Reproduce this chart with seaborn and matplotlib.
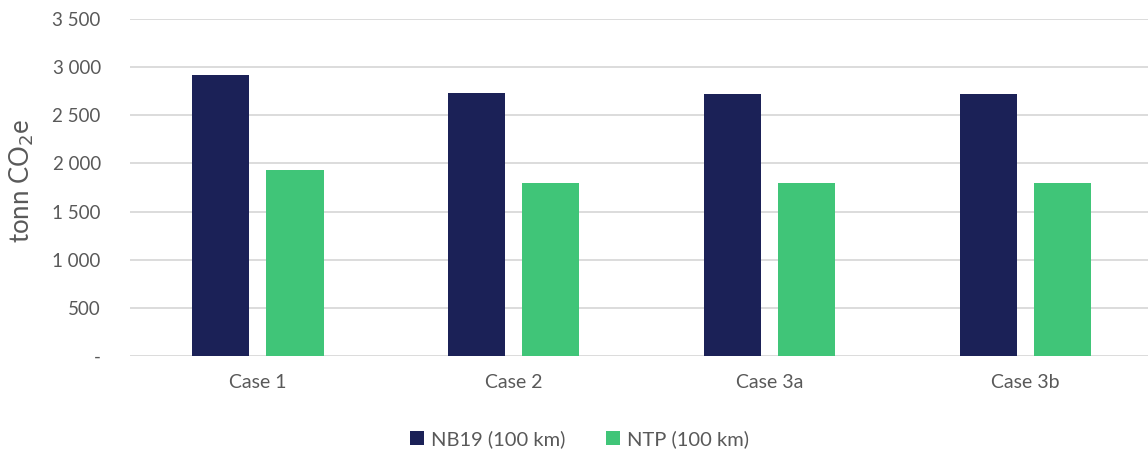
import matplotlib
matplotlib.use("Agg")
import matplotlib.pyplot as plt
from matplotlib.ticker import FuncFormatter
import seaborn as sns
import pandas as pd

cases = ["Case 1", "Case 2", "Case 3a", "Case 3b"]
nb19 = [2915, 2728, 2717, 2717]
ntp = [1931, 1793, 1793, 1793]
series_names = ["NB19 (100 km)", "NTP (100 km)"]
colors = ["#1B2157", "#40C578"]

df = pd.DataFrame({
    "case": cases * 2,
    "value": nb19 + ntp,
    "series": [series_names[0]] * len(cases) + [series_names[1]] * len(cases),
})

sns.set_theme(style="white")
plt.rcParams["font.family"] = ["Lato", "DejaVu Sans"]
text_color = "#595959"

fig = plt.figure(figsize=(11.48, 4.54), dpi=100)
ax = fig.add_axes([130 / 1148, 1 - 356 / 454, 1018 / 1148, 337 / 454])

sns.barplot(data=df, x="case", y="value", hue="series", palette=colors,
            width=0.58, gap=0.23, ax=ax, legend=True, saturation=1,
            edgecolor="none", linewidth=0)

ax.set_ylim(0, 3500)
ax.set_xlim(-0.5, 3.48)
ax.set_yticks(range(0, 3501, 500))


def fmt(v, pos):
    if v == 0:
        return "-"
    return f"{int(v):,}".replace(",", " ")


ax.yaxis.set_major_formatter(FuncFormatter(fmt))
ax.grid(axis="y", color="#D9D9D9", linewidth=1.3)
ax.set_axisbelow(True)
for s in ax.spines.values():
    s.set_visible(False)
ax.tick_params(axis="y", length=0, labelsize=13.5, colors=text_color, pad=21)
ax.tick_params(axis="x", length=0, labelsize=14, colors=text_color, pad=13)
ax.set_xlabel("")
ax.set_ylabel("tonn CO$_2$e", fontsize=18.5, color=text_color)
ax.yaxis.set_label_coords(-0.092, 0.52)

handles, labels = ax.get_legend_handles_labels()
ax.get_legend().remove()
fig.legend(handles, labels, loc="center", bbox_to_anchor=(0.505, 1 - 439 / 454),
           ncol=2, frameon=False, fontsize=14.5, handlelength=0.7,
           handleheight=0.7, columnspacing=2.0, handletextpad=0.35,
           labelcolor=text_color)

fig.savefig("out.png", dpi=100)
